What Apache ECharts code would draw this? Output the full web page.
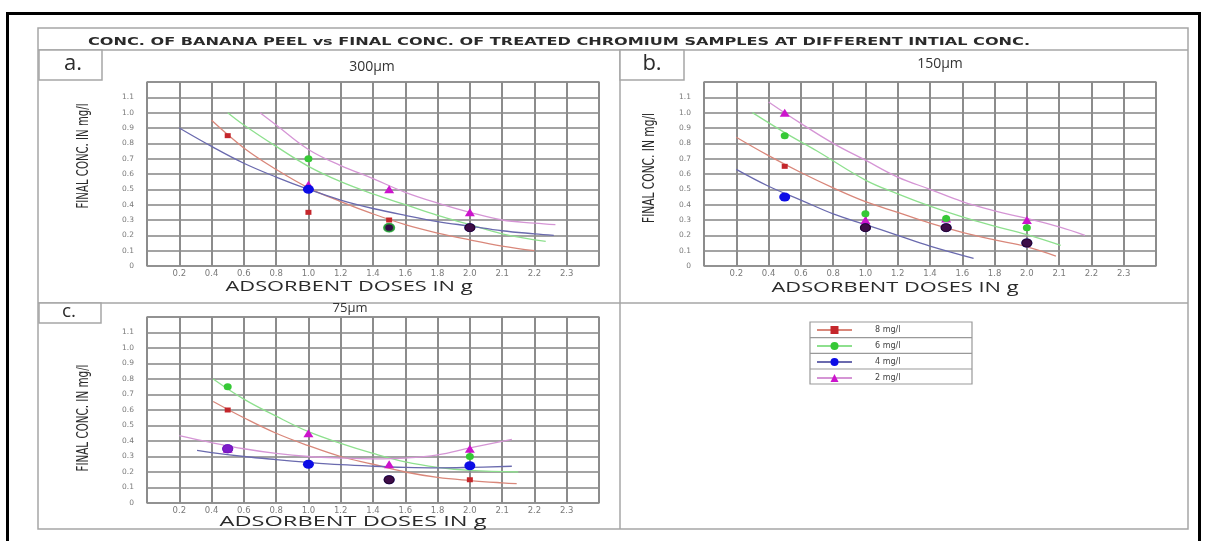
<!DOCTYPE html>
<html><head><meta charset="utf-8">
<script src="https://cdn.jsdelivr.net/npm/echarts@6/dist/echarts.min.js"></script>
<style>html,body{margin:0;padding:0;background:#fff}#c{width:1205px;height:541px}</style>
</head><body><div id="c"></div>
<script>
// ---------------- texts ----------------
const chartTitle = 'CONC. OF BANANA PEEL vs FINAL CONC. OF TREATED CHROMIUM SAMPLES AT DIFFERENT INTIAL CONC.';
const panelLabels = ['a.', 'b.', 'c.'];
const panelSizes = ['300μm', '150μm', '75μm'];
const xAxisTitle = 'ADSORBENT DOSES IN g';
const yAxisTitle = 'FINAL CONC. IN mg/l';
const seriesNames = ['8 mg/l', '6 mg/l', '4 mg/l', '2 mg/l'];
const xTickLabels = ['0.2','0.4','0.6','0.8','1.0','1.2','1.4','1.6','1.8','2.0','2.1','2.2','2.3'];
const yTickLabels = ['0','0.1','0.2','0.3','0.4','0.5','0.6','0.7','0.8','0.9','1.0','1.1'];

// ---------------- measured points [dose g, final conc mg/l] ----------------
const a8 = [[0.5,0.85],[1.0,0.35],[1.5,0.30],[2.0,0.25]];
const a6 = [[1.0,0.70],[1.5,0.25]];
const a4 = [[1.0,0.50],[1.5,0.25],[2.0,0.25]];
const a2 = [[1.0,0.53],[1.5,0.50],[2.0,0.35]];

const b8 = [[0.5,0.65],[1.0,0.25],[1.5,0.25],[2.0,0.15]];
const b6 = [[0.5,0.85],[1.0,0.34],[1.5,0.31],[2.0,0.25]];
const b4 = [[0.5,0.45],[1.0,0.25],[1.5,0.25],[2.0,0.15]];
const b2 = [[0.5,1.00],[1.0,0.30],[1.5,0.31],[2.0,0.30]];

const c8 = [[0.5,0.60],[1.5,0.15],[2.0,0.15]];
const c6 = [[0.5,0.75],[2.0,0.30]];
const c4 = [[0.5,0.35],[1.0,0.25],[1.5,0.15],[2.0,0.24]];
const c2 = [[0.5,0.35],[1.0,0.45],[1.5,0.25],[2.0,0.35]];

// ---------------- trend curves ----------------
const a8Trend = [[0.4,0.95],[0.6,0.77],[0.8,0.63],[1.0,0.51],[1.2,0.42],[1.4,0.34],[1.6,0.27],[1.8,0.215],[2.0,0.17],[2.1,0.13],[2.2,0.10]];
const a6Trend = [[0.5,1.0],[0.6,0.92],[0.8,0.78],[1.0,0.65],[1.2,0.55],[1.4,0.47],[1.6,0.40],[1.8,0.33],[2.0,0.27],[2.1,0.21],[2.235,0.16]];
const a4Trend = [[0.2,0.90],[0.4,0.78],[0.6,0.67],[0.8,0.58],[1.0,0.50],[1.2,0.43],[1.4,0.375],[1.6,0.33],[1.8,0.29],[2.0,0.26],[2.1,0.23],[2.2,0.21],[2.26,0.20]];
const a2Trend = [[0.7,1.0],[0.8,0.92],[1.0,0.76],[1.2,0.655],[1.4,0.57],[1.6,0.48],[1.8,0.41],[2.0,0.35],[2.1,0.30],[2.2,0.28],[2.265,0.27]];

const b8Trend = [[0.2,0.84],[0.4,0.72],[0.6,0.61],[0.8,0.51],[1.0,0.42],[1.2,0.35],[1.4,0.28],[1.6,0.22],[1.8,0.17],[2.0,0.125],[2.09,0.065]];
const b6Trend = [[0.3,1.0],[0.5,0.87],[0.7,0.75],[1.0,0.56],[1.2,0.47],[1.4,0.39],[1.6,0.32],[1.8,0.26],[2.0,0.205],[2.105,0.135]];
const b4Trend = [[0.2,0.63],[0.4,0.52],[0.6,0.43],[0.8,0.34],[1.0,0.27],[1.2,0.20],[1.4,0.13],[1.67,0.05]];
const b2Trend = [[0.4,1.07],[0.6,0.93],[0.8,0.80],[1.0,0.69],[1.2,0.58],[1.4,0.50],[1.6,0.42],[1.8,0.36],[2.0,0.31],[2.1,0.255],[2.18,0.20]];

const c8Trend = [[0.41,0.655],[0.6,0.55],[0.8,0.45],[1.0,0.37],[1.2,0.30],[1.4,0.25],[1.6,0.20],[1.8,0.165],[2.0,0.145],[2.1,0.13],[2.145,0.125]];
const c6Trend = [[0.41,0.80],[0.6,0.67],[0.8,0.56],[1.0,0.46],[1.2,0.385],[1.4,0.32],[1.6,0.265],[1.8,0.23],[2.0,0.21],[2.15,0.20]];
const c4Trend = [[0.31,0.34],[0.4,0.325],[0.6,0.30],[0.8,0.28],[1.0,0.262],[1.2,0.247],[1.4,0.237],[1.6,0.23],[1.8,0.227],[2.0,0.23],[2.13,0.237]];
const c2Trend = [[0.2,0.435],[0.4,0.39],[0.6,0.35],[0.8,0.32],[1.0,0.30],[1.2,0.29],[1.4,0.285],[1.6,0.29],[1.8,0.31],[2.0,0.355],[2.13,0.41]];

// ---------------- assembly ----------------
const panelPoints = [[a8,a6,a4,a2],[b8,b6,b4,b2],[c8,c6,c4,c2]];
const panelTrends = [[a8Trend,a6Trend,a4Trend,a2Trend],[b8Trend,b6Trend,b4Trend,b2Trend],[c8Trend,c6Trend,c4Trend,c2Trend]];

const styles = [
  {marker:'#c4262b', curve:'#d9877a', symbol:'rect',     size:[6,5]},
  {marker:'#36c936', curve:'#8ee08e', symbol:'circle',   size:[8,7]},
  {marker:'#0c0ce6', curve:'#6a6aae', symbol:'circle',   size:[11,9]},
  {marker:'#cc14cc', curve:'#d595d5', symbol:'triangle', size:[10,8]}
];

// axis positions: the printed x axis is evenly spaced by tick, not by value
const tickVals = [0].concat(xTickLabels.map(Number));
function toAxis(x) {
  for (let i = 0; i < tickVals.length - 1; i++) {
    if (x <= tickVals[i+1] + 1e-9) return i + (x - tickVals[i]) / (tickVals[i+1] - tickVals[i]);
  }
  const n = tickVals.length - 1;
  return n + (x - tickVals[n]) / (tickVals[n] - tickVals[n-1]);
}
const mapXY = arr => arr.map(p => [toAxis(p[0]), p[1]]);

const grids = [
  {left:147, top:82,  width:452, height:184},
  {left:704, top:82,  width:452, height:184},
  {left:147, top:317, width:452, height:186}
];

const xAxes = [], yAxes = [], series = [];
grids.forEach((g, gi) => {
  xAxes.push({
    type:'value', gridIndex:gi, min:0, max:tickVals.length, interval:1,
    axisLine:{show:false}, axisTick:{show:false},
    axisLabel:{fontSize:8.5, color:'#7a7a7a', margin:3, fontFamily:'DejaVu Sans',
      formatter: v => (v >= 1 && v <= xTickLabels.length) ? xTickLabels[Math.round(v)-1] : ''},
    splitLine:{show:true, lineStyle:{color:'#8c8c8c', width:2}}
  });
  yAxes.push({
    type:'value', gridIndex:gi, min:0, max:1.2, interval:0.1,
    axisLine:{show:false}, axisTick:{show:false},
    axisLabel:{fontSize:7.5, color:'#7a7a7a', margin:13, fontFamily:'DejaVu Sans',
      formatter: v => { const k = Math.round(v*10); return k < yTickLabels.length ? yTickLabels[k] : ''; }},
    splitLine:{show:true, lineStyle:{color:'#858585', width:1.5}}
  });
  // trend curves
  panelTrends[gi].forEach((tr, si) => {
    series.push({
      type:'line', name:seriesNames[si], xAxisIndex:gi, yAxisIndex:gi,
      data:mapXY(tr), smooth:0.4, showSymbol:false, symbol:styles[si].symbol,
      lineStyle:{color:styles[si].curve, width:1.3},
      itemStyle:{color:styles[si].marker}, z:2, silent:true
    });
  });
  // markers: draw order magenta, red, green, blue
  [3,0,1,2].forEach((si, k) => {
    series.push({
      type:'scatter', name:seriesNames[si], xAxisIndex:gi, yAxisIndex:gi,
      data:mapXY(panelPoints[gi][si]), symbol:styles[si].symbol, symbolSize:styles[si].size,
      itemStyle:{color:styles[si].marker, opacity:1}, z:3+k
    });
  });
  // coincident markers (blue reading equal to another series' reading)
  const overlapStyle = {
    0:{color:'#4b0c22', borderColor:'#26050f', borderWidth:1},
    1:{color:'#3b0f1e', borderColor:'#2bb52b', borderWidth:2},
    3:{color:'#9b20c4', borderColor:'#8a18b0', borderWidth:1}
  };
  [0,1,3].forEach(pi => {
    const pts = panelPoints[gi][2].filter(b => panelPoints[gi][pi].some(o => Math.abs(o[0]-b[0])<1e-9 && Math.abs(o[1]-b[1])<1e-9));
    if (pts.length) series.push({
      type:'scatter', name:'overlap', xAxisIndex:gi, yAxisIndex:gi, data:mapXY(pts),
      symbol:'circle', symbolSize:[10,8], itemStyle:overlapStyle[pi], z:10, silent:true
    });
  });
});

// ---------------- text helpers ----------------
const mctx = document.createElement('canvas').getContext('2d');
function fit(text, font, target) { mctx.font = font; return target / mctx.measureText(text).width; }
function label(text, x, y, font, color, target, rot) {
  const s = target ? fit(text, font, target) : 1;
  return {type:'text', x:x, y:y, scaleX:s, rotation:rot||0, z:20, silent:true,
    style:{text:text, x:0, y:0, font:font, fill:color, textAlign:'center', textVerticalAlign:'middle', align:'center', verticalAlign:'middle'}};
}
const line = (x1,y1,x2,y2,c,w) => ({type:'line', shape:{x1,y1,x2,y2}, style:{stroke:c, lineWidth:w}, z:1, silent:true});
const rect = (x,y,w,h,c,lw,fill) => ({type:'rect', shape:{x,y,width:w,height:h}, style:{stroke:c, lineWidth:lw, fill:fill||'transparent'}, z:1, silent:true});

const frameC = '#a6a6a6';
const titleFont = 'bold 10px "DejaVu Sans"';
const axFont = '15px "Open Sans"';
const yFont = '16px "DejaVu Sans Condensed", "DejaVu Sans"';
const graphic = [
  rect(7.5, 13.5, 1192, 600, '#000', 3),
  rect(38, 28, 1150, 501, frameC, 1.5),
  line(38, 50, 1188, 50, frameC, 1.5),
  line(620, 50, 620, 529, frameC, 1.5),
  line(38, 303, 1188, 303, frameC, 1.5),
  label(chartTitle, 559, 42, titleFont, '#2a2a2a', 942),
  rect(39, 50, 63, 30, frameC, 1.5, '#fff'),
  rect(620, 50, 64, 30, frameC, 1.5, '#fff'),
  rect(39, 303, 62, 20, frameC, 1.5, '#fff'),
  label(panelLabels[0], 73, 64, '22px "Open Sans"', '#2b2b2b'),
  label(panelLabels[1], 652, 64, '22px "Open Sans"', '#2b2b2b'),
  label(panelLabels[2], 69, 312, '19px "Open Sans"', '#2b2b2b'),
  label(panelSizes[0], 372, 67, '14px "Open Sans"', '#333'),
  label(panelSizes[1], 940, 64, '14px "Open Sans"', '#333'),
  label(panelSizes[2], 350, 308, '13px "Open Sans"', '#333'),
  label(xAxisTitle, 349, 287, axFont, '#2a2a2a', 247),
  label(xAxisTitle, 895, 288, axFont, '#2a2a2a', 247),
  label(xAxisTitle, 353, 522, axFont, '#2a2a2a', 267),
  label(yAxisTitle, 84, 156, yFont, '#2a2a2a', 105, Math.PI/2),
  label(yAxisTitle, 650, 168, yFont, '#2a2a2a', 110, Math.PI/2),
  label(yAxisTitle, 84, 418, yFont, '#2a2a2a', 107, Math.PI/2),
  // legend box
  rect(810, 322, 162, 62, '#999', 1.2),
  line(810, 337.7, 972, 337.7, '#999', 1.2),
  line(810, 353.3, 972, 353.3, '#999', 1.2),
  line(810, 369, 972, 369, '#999', 1.2)
];

const option = {
  animation:false,
  backgroundColor:'#fff',
  grid: grids.map(g => Object.assign({show:true, borderColor:'#a8a8a8', borderWidth:1.5, backgroundColor:'transparent'}, g)),
  xAxis:xAxes, yAxis:yAxes, series:series, graphic:graphic,
  legend:{
    data:seriesNames, orient:'vertical', left:816, top:326, padding:0,
    itemWidth:35, itemHeight:10, itemGap:8, selectedMode:false,
    textStyle:{fontSize:8, color:'#444', padding:[2,0,0,18], fontFamily:'DejaVu Sans'}
  }
};
const chart = echarts.init(document.getElementById('c'), null, {renderer:'canvas'});
chart.setOption(option);
</script></body></html>
